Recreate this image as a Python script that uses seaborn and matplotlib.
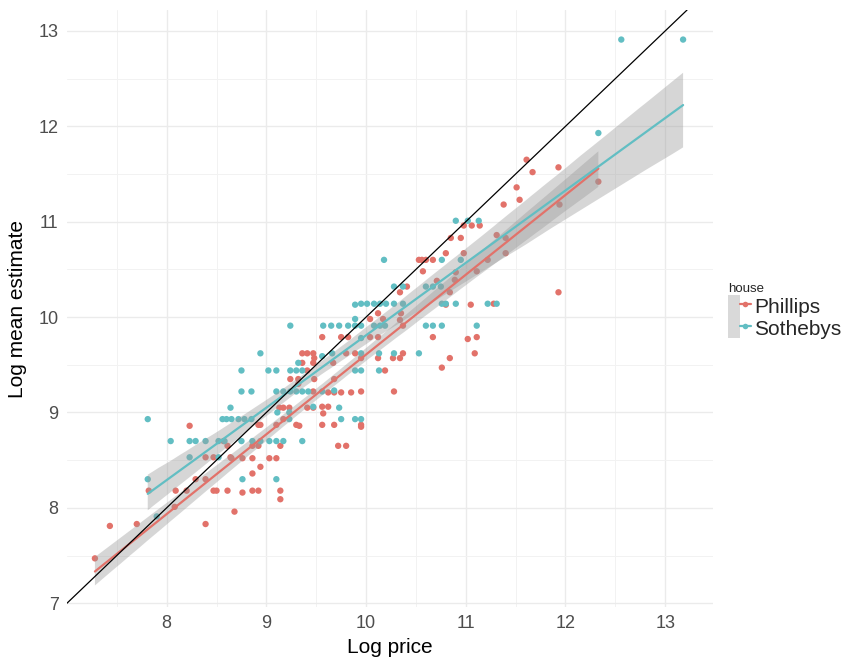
import matplotlib
matplotlib.use("Agg")
import matplotlib.pyplot as plt
from matplotlib.lines import Line2D
from matplotlib.patches import Patch
from matplotlib.legend_handler import HandlerTuple
from matplotlib.collections import PolyCollection
import numpy as np
import pandas as pd
import seaborn as sns

# Phillips lots: log price vs log mean estimate
phillips_price = [
    7.28, 7.43, 7.70, 7.82, 8.08, 8.09, 8.20, 8.23, 8.29, 8.39, 8.39, 8.39, 8.47, 8.47, 8.50,
    8.57, 8.61, 8.61, 8.64, 8.68, 8.65, 8.76, 8.86, 9.03, 9.10, 8.94, 8.86, 8.76, 8.86, 8.92,
    9.14, 9.14, 8.86, 8.92, 9.14, 9.72, 9.80, 8.92, 8.94, 9.30, 9.33, 9.10, 9.56, 9.68, 9.95,
    9.95, 9.17, 9.13, 9.17, 9.23, 9.41, 9.47, 9.56, 9.62, 9.57, 9.32, 9.47, 9.62, 9.68, 9.75,
    9.85, 9.95, 10.28, 9.24, 9.32, 9.48, 9.68, 9.41, 10.19, 9.36, 9.47, 9.67, 9.48, 9.95, 10.12,
    10.27, 10.34, 10.84, 9.36, 9.41, 9.47, 9.80, 9.89, 10.37, 11.09, 10.76, 9.56, 9.75, 9.82,
    10.04, 10.12, 10.67, 11.02, 11.11, 10.37, 10.04, 10.17, 10.34, 10.12, 10.35, 10.80, 11.05,
    11.28, 10.34, 10.84, 11.93, 10.41, 10.71, 10.89, 10.57, 10.90, 11.11, 10.53, 10.56, 10.60,
    10.67, 11.22, 10.80, 10.98, 11.40, 10.85, 10.95, 11.31, 11.40, 10.98, 11.06, 11.14, 11.38,
    11.94, 11.54, 11.51, 12.33, 11.67, 11.93, 11.61,
]
phillips_estimate = [
    7.47, 7.81, 7.83, 8.18, 8.01, 8.18, 8.18, 8.86, 8.30, 8.30, 8.53, 7.83, 8.53, 8.18, 8.18,
    8.70, 8.65, 8.18, 8.53, 7.96, 8.52, 8.52, 8.52, 8.52, 8.52, 8.43, 8.36, 8.16, 8.18, 8.18,
    8.18, 8.09, 8.65, 8.65, 8.65, 8.65, 8.65, 8.87, 8.87, 8.87, 8.86, 8.87, 8.87, 8.87, 8.87,
    8.85, 8.93, 9.05, 9.05, 9.05, 9.05, 9.05, 9.06, 9.06, 8.99, 9.30, 9.22, 9.21, 9.21, 9.21,
    9.21, 9.22, 9.22, 9.35, 9.35, 9.35, 9.35, 9.44, 9.44, 9.52, 9.52, 9.52, 9.57, 9.57, 9.57,
    9.57, 9.57, 9.57, 9.62, 9.62, 9.62, 9.62, 9.62, 9.62, 9.62, 9.47, 9.79, 9.79, 9.79,
    9.79, 9.79, 9.79, 9.77, 9.79, 9.91, 9.98, 9.98, 9.97, 10.04, 10.04, 10.13, 10.13,
    10.14, 10.26, 10.26, 10.26, 10.32, 10.38, 10.39, 10.48, 10.47, 10.48, 10.60, 10.60, 10.60,
    10.60, 10.60, 10.67, 10.67, 10.67, 10.83, 10.83, 10.86, 10.83, 10.96, 10.96, 10.96, 11.18,
    11.18, 11.23, 11.36, 11.42, 11.52, 11.57, 11.65,
]

# Sotheby's lots
sothebys_price = [
    7.81, 7.81, 7.90, 8.04, 8.23, 8.29, 8.39, 8.52, 8.58, 8.75, 8.86, 8.94, 9.03, 9.10, 9.17,
    9.36, 8.23, 8.52, 8.56, 8.60, 8.65, 8.72, 8.78, 8.85, 9.23, 9.75, 9.89, 9.95, 8.64, 9.11,
    9.23, 9.47, 9.73, 8.76, 9.10, 8.75, 8.85, 9.10, 9.17, 9.24, 9.30, 9.36, 9.42, 9.56, 9.68,
    8.75, 9.02, 9.10, 9.24, 9.30, 9.36, 9.89, 9.95, 10.13, 9.32, 8.94, 9.56, 9.66, 9.95, 10.13,
    10.28, 10.53, 9.95, 9.24, 9.57, 9.65, 9.73, 9.82, 9.89, 9.95, 10.08, 10.14, 10.19, 10.60,
    10.67, 10.76, 11.11, 9.89, 9.89, 9.95, 10.01, 10.08, 10.14, 10.20, 10.28, 10.37, 10.76,
    10.80, 10.90, 11.22, 11.31, 10.28, 10.37, 10.60, 10.67, 10.75, 10.18, 10.76, 10.95, 10.90,
    11.02, 11.13, 12.33, 12.56, 13.18,
]
sothebys_estimate = [
    8.93, 8.30, 7.91, 8.70, 8.70, 8.70, 8.70, 8.70, 8.70, 8.70, 8.70, 8.70, 8.70, 8.70, 8.70,
    8.70, 8.53, 8.53, 8.93, 8.93, 8.93, 8.93, 8.93, 8.93, 8.93, 8.93, 8.93, 8.93, 9.05, 9.00,
    9.00, 9.06, 9.05, 8.30, 8.30, 9.22, 9.22, 9.22, 9.22, 9.22, 9.22, 9.22, 9.22, 9.22, 9.23,
    9.44, 9.44, 9.44, 9.44, 9.44, 9.44, 9.44, 9.44, 9.44, 9.52, 9.62, 9.59, 9.62, 9.62, 9.62,
    9.62, 9.62, 9.78, 9.91, 9.91, 9.91, 9.91, 9.91, 9.91, 9.91, 9.91, 9.91, 9.91, 9.91,
    9.91, 9.91, 9.91, 9.98, 10.13, 10.14, 10.14, 10.14, 10.14, 10.14, 10.14, 10.14, 10.14,
    10.14, 10.14, 10.14, 10.14, 10.32, 10.32, 10.32, 10.32, 10.32, 10.60, 10.60, 10.60, 11.01,
    11.01, 11.01, 11.93, 12.91, 12.91,
]

houses = ["Phillips", "Sothebys"]
house_colors = {"Phillips": "#E2726A", "Sothebys": "#62BEC3"}

df = pd.concat([
    pd.DataFrame({"price": phillips_price, "estimate": phillips_estimate, "house": "Phillips"}),
    pd.DataFrame({"price": sothebys_price, "estimate": sothebys_estimate, "house": "Sothebys"}),
], ignore_index=True)

sns.set_theme(style="white")
plt.rcParams["font.family"] = ["Liberation Sans", "DejaVu Sans"]

fig = plt.figure(figsize=(8.43, 6.57), dpi=100)
ax = fig.add_axes([67 / 843, 1 - 607 / 657, (713 - 67) / 843, (607 - 10) / 657])

# points underneath
sns.scatterplot(data=df, x="price", y="estimate", hue="house", palette=house_colors,
                s=21, linewidth=0, ax=ax, legend=False, zorder=2)

# per-house linear fits with grey confidence bands
for h in houses:
    sub = df[df["house"] == h]
    before = len(ax.collections)
    sns.regplot(data=sub, x="price", y="estimate", scatter=False, ci=95, n_boot=1000, seed=3,
                color=house_colors[h], line_kws={"lw": 1.6, "zorder": 4}, ax=ax)
    for coll in ax.collections[before:]:
        if isinstance(coll, PolyCollection):
            coll.set_facecolor("#9a9a9a")
            coll.set_alpha(0.4)
            coll.set_edgecolor("none")
            coll.set_zorder(3)

# identity line
ax.axline((7, 7), slope=1, color="black", lw=0.9, zorder=5)

ax.set_xlim(7.0, 13.48)
ax.set_ylim(6.96, 13.22)
ax.set_xticks([8, 9, 10, 11, 12, 13])
ax.set_yticks([7, 8, 9, 10, 11, 12, 13])
ax.set_xticks(np.arange(7.5, 13.5, 1.0), minor=True)
ax.set_yticks(np.arange(7.5, 13.5, 1.0), minor=True)
ax.grid(which="major", color="#EBEBEB", lw=1.0)
ax.grid(which="minor", color="#F2F2F2", lw=0.7)
ax.set_axisbelow(True)
for sp in ax.spines.values():
    sp.set_visible(False)
ax.tick_params(which="both", length=0, labelsize=13, labelcolor="#4D4D4D", pad=6)

ax.set_xlabel("Log price", fontsize=15, color="black", labelpad=4)
ax.set_ylabel("Log mean estimate", fontsize=15, color="black", labelpad=8)

handles = [
    (Patch(facecolor="#D9D9D9", edgecolor="none"),
     Line2D([0], [0], color=house_colors[h], lw=1.6, marker="o", markersize=4,
            markeredgewidth=0))
    for h in houses
]
leg = fig.legend(handles, houses, title="house", loc="upper left",
                 bbox_to_anchor=(724 / 843, 1 - 279 / 657), frameon=False,
                 handler_map={tuple: HandlerTuple(ndivide=None, pad=0)},
                 fontsize=15, title_fontsize=9.5, handlelength=1.1, handleheight=1.2,
                 handletextpad=0.15, labelspacing=0.0, borderaxespad=0, borderpad=0.2)
leg._legend_box.align = "left"

fig.savefig("out.png", dpi=100)
